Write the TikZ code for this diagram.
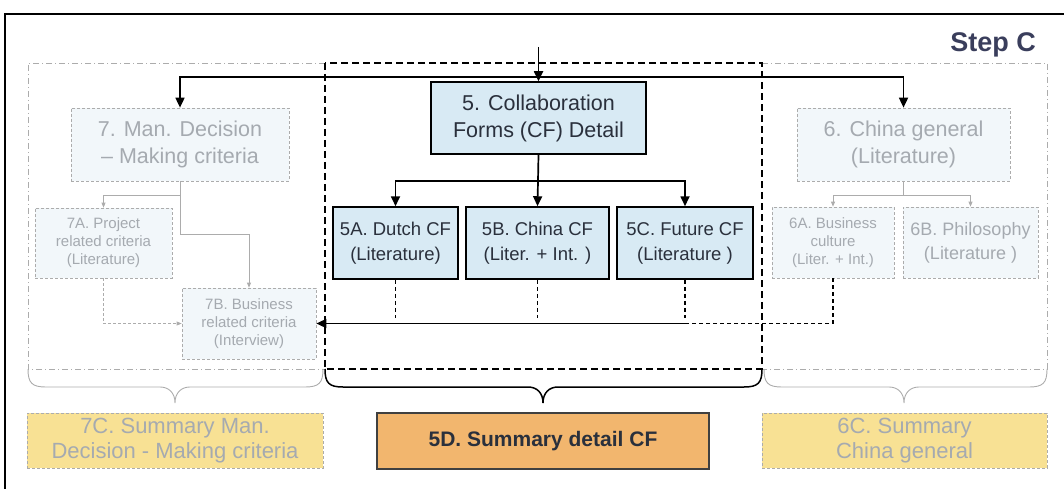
\documentclass[tikz,border=0pt]{standalone}
\usepackage{fontspec}
\setmainfont{Liberation Sans}
\usetikzlibrary{arrows.meta}

\definecolor{fadetext}{RGB}{165,170,176}
\definecolor{fadeline}{RGB}{172,172,172}
\definecolor{fadefill}{RGB}{242,247,250}
\definecolor{corefill}{RGB}{216,234,244}
\definecolor{coretext}{RGB}{42,48,60}
\definecolor{sumorange}{RGB}{242,182,110}
\definecolor{sumyellow}{RGB}{248,225,148}
\definecolor{stepcol}{RGB}{58,62,92}

\tikzset{
  x=1pt, y=-1pt,
  corebox/.style={draw=black, line width=1.5pt, fill=corefill, text=coretext,
    align=center, inner sep=0pt},
  fadebox/.style={draw=fadeline, densely dashed, line width=0.7pt, fill=fadefill,
    text=fadetext, align=center, inner sep=0pt},
  sumbox/.style={draw=fadeline, densely dashed, line width=0.7pt, fill=sumyellow,
    text=fadetext, align=center, inner sep=0pt,
    font=\fontsize{22}{25}\selectfont},
  mainarrow/.style={line width=1.7pt, -{Triangle[length=10pt,width=9pt]}},
  fadearrow/.style={draw=fadeline, line width=0.7pt, -{Triangle[length=5pt,width=4pt]}},
  coredash/.style={line width=1.5pt, dash pattern=on 4pt off 3pt},
  corereg/.style={line width=1.4pt, dash pattern=on 7pt off 4pt},
  fadereg/.style={draw=fadeline, line width=0.8pt, dash pattern=on 6pt off 3pt on 1pt off 3pt},
}

\begin{document}
\begin{tikzpicture}
\useasboundingbox (0,0) rectangle (1064,489);

% page frame
\draw[line width=2.2pt] (1064,14) -- (5,14) -- (5,489);

% title
\node[text=stepcol, font=\bfseries\fontsize{27}{30}\selectfont] (stepc) at (993,45) {Step C};

% group regions
\draw[fadereg] (325,63) -- (28,63) -- (28,369) -- (325,369);
\draw[fadereg] (762,63) -- (1047,63) -- (1047,369) -- (762,369);
\draw[corereg] (325,63) rectangle (762,369);

% braces under the regions
\draw[draw=fadeline, line width=0.9pt]
  (28,369) .. controls (28,383) and (32,387) .. (46,387) -- (160,387)
  .. controls (169,387) and (175,393) .. (175,403)
  .. controls (175,393) and (181,387) .. (190,387) -- (305,387)
  .. controls (319,387) and (323,383) .. (323,369);
\draw[line width=1.5pt]
  (325,369) .. controls (325,383) and (329,387) .. (343,387) -- (528,387)
  .. controls (537,387) and (543,393) .. (543,403)
  .. controls (543,393) and (549,387) .. (558,387) -- (744,387)
  .. controls (758,387) and (762,383) .. (762,369);
\draw[draw=fadeline, line width=0.9pt]
  (764,369) .. controls (764,383) and (768,387) .. (782,387) -- (889,387)
  .. controls (898,387) and (904,393) .. (904,403)
  .. controls (904,393) and (910,387) .. (919,387) -- (1029,387)
  .. controls (1043,387) and (1047,383) .. (1047,369);

% core boxes
\node[corebox, minimum width=215, minimum height=72,
      font=\fontsize{21.5}{27}\selectfont] (n5) at (538.5,118)
  {5. Collaboration\\Forms (CF) Detail};
\node[corebox, minimum width=125, minimum height=72,
      font=\fontsize{18.5}{25}\selectfont] (n5a) at (395.5,243)
  {5A. Dutch CF\\(Literature)};
\node[corebox, minimum width=143, minimum height=72,
      font=\fontsize{18.5}{25}\selectfont] (n5b) at (537.5,243)
  {5B. China CF\\(Liter. + Int. )};
\node[corebox, minimum width=136, minimum height=72,
      font=\fontsize{18.5}{25}\selectfont] (n5c) at (685,243)
  {5C. Future CF\\(Literature )};

% side boxes
\node[fadebox, minimum width=218, minimum height=73,
      font=\fontsize{21.5}{27}\selectfont] (n7) at (180,144.5)
  {7. Man. Decision\\– Making criteria};
\node[fadebox, minimum width=213, minimum height=73,
      font=\fontsize{21.5}{27}\selectfont] (n6) at (903.5,144.5)
  {6. China general\\(Literature)};
\node[fadebox, minimum width=137, minimum height=70,
      font=\fontsize{15}{18}\selectfont] (n7a) at (103.5,243)
  {7A. Project\\related criteria\\(Literature)};
\node[fadebox, minimum width=134, minimum height=71,
      font=\fontsize{15}{18}\selectfont] (n7b) at (249,323.5)
  {7B. Business\\related criteria\\(Interview)};
\node[fadebox, minimum width=122, minimum height=71,
      font=\fontsize{15}{18}\selectfont] (n6a) at (833,242.5)
  {6A. Business\\culture\\(Liter. + Int.)};
\node[fadebox, minimum width=135, minimum height=71,
      font=\fontsize{18}{24}\selectfont] (n6b) at (970.5,242.5)
  {6B. Philosophy\\(Literature )};

% summary boxes
\node[sumbox, minimum width=296, minimum height=55] (n7c) at (175,440.5)
  {7C. Summary Man.\\Decision - Making criteria};
\node[draw=black!75, line width=1.2pt, fill=sumorange, text=coretext,
      minimum width=332, minimum height=56, inner sep=0pt,
      font=\bfseries\fontsize{21}{24}\selectfont] (n5d) at (543,441)
  {5D. Summary detail CF};
\node[sumbox, minimum width=285, minimum height=55] (n6c) at (904.5,440.5)
  {6C. Summary\\China general};

% incoming flow and split to the three groups
\coordinate (top) at (538.5,47);
\coordinate (split) at (538.5,77);
\draw[mainarrow] (top) -- (n5);
\draw[mainarrow] (split) -| (n7);
\draw[mainarrow] (split) -| (n6);

% collaboration forms detail
\draw[mainarrow] (n5.south) -- ++(0,26) -| (n5a.north);
\draw[mainarrow] (n5.south) -- ++(0,26) -| (n5c.north);
\draw[mainarrow] (n5.south) -- (n5b.north);

% management decision branch
\draw[fadearrow] (n7.south) -- ++(0,14) -| (n7a.north);
\draw[fadearrow] (n7.south) -- ++(0,53) -| (n7b.north);
\draw[fadearrow, densely dashed] (n7a.south) |- (n7b.west);

% China general branch
\draw[fadearrow] (n6.south) -- ++(0,14) -| (n6a.north);
\draw[fadearrow] (n6.south) -- ++(0,14) -| (n6b.north);

% feedback into business related criteria
\coordinate (join) at (688,323.5);
\draw[coredash] (n5a.south) -- ([yshift=6pt]n5a.south |- join);
\draw[coredash] (n5b.south) -- ([yshift=6pt]n5b.south |- join);
\draw[coredash] (n5c.south) -- ([yshift=6pt]n5c.south |- join);
\draw[coredash] (n6a.south) |- (join);
\draw[line width=1.5pt, -{Triangle[length=10pt,width=9pt]}] (join) -- (n7b.east);
\end{tikzpicture}
\end{document}
